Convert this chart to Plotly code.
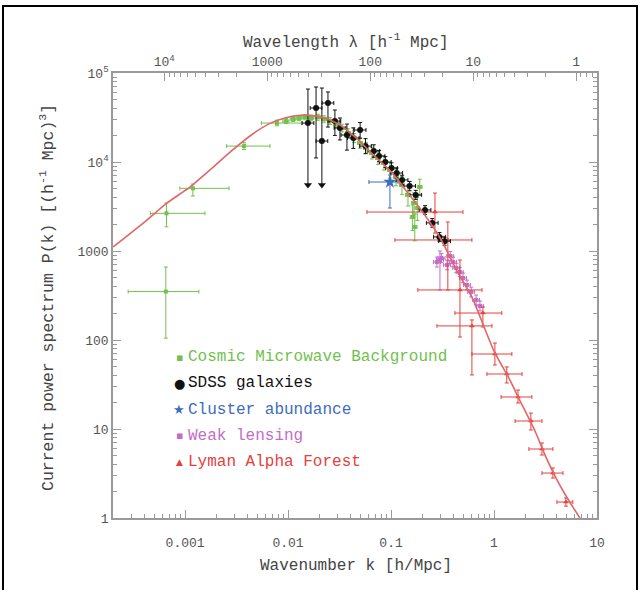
import math
import plotly.graph_objects as go

# ---------------- data ----------------
# Model power spectrum (red curve)
model_k = [0.0002, 0.0004, 0.00067, 0.00112, 0.0018, 0.00275, 0.0045, 0.0066, 0.0095,
           0.0132, 0.018, 0.024, 0.032, 0.045, 0.065, 0.1, 0.15, 0.2, 0.3, 0.45, 0.62,
           1.0, 1.4, 1.78, 2.5, 3.2, 4.0, 5.1, 7.0, 8.0]
model_p = [1110, 2100, 3470, 5250, 8400, 13000, 20500, 27000, 31500,
           33500, 33000, 30500, 26000, 19000, 12500, 7800, 4300, 2800, 1400, 560, 290,
           75, 37, 21, 9.5, 4.8, 2.8, 1.7, 0.95, 0.7]

# Cosmic Microwave Background
cmb_k = [0.00065, 0.00066, 0.00119, 0.00373, 0.0078, 0.00955, 0.0112, 0.0128, 0.0146, 0.0167,
         0.0195, 0.0224, 0.0256, 0.0293, 0.0335, 0.0383, 0.0438, 0.0501, 0.0572, 0.0654,
         0.0747, 0.0854, 0.0977, 0.1117, 0.1276, 0.146, 0.162, 0.167, 0.17, 0.18, 0.19]
cmb_p = [350, 2650, 5060, 15100, 27400, 28800, 30400, 31200, 31900, 31200,
         31900, 30400, 28800, 26700, 24100, 21200, 18600, 16300, 14400, 12600,
         11100, 9750, 8130, 6780, 5520, 4270, 2410, 3470, 1860, 3040, 5250]
cmb_p_lo = [105, 1870, 4150, 13800, 25500, 27000, 28500, 29200, 29800, 29000,
            29500, 28000, 26400, 24300, 21800, 19000, 16500, 14300, 12500, 10800,
            9400, 8100, 6600, 5400, 4300, 3200, 1700, 2600, 1300, 2200, 4200]
cmb_p_hi = [660, 3470, 5660, 16500, 29500, 30700, 32400, 33300, 34100, 33500,
            34400, 33000, 31400, 29300, 26600, 23600, 20900, 18500, 16500, 14600,
            13000, 11600, 9800, 8300, 6900, 5500, 3300, 4500, 2600, 4000, 6400]
cmb_k_lo = [0.00028, 0.00046, 0.00089, 0.00253, 0.0055, 0.0089, 0.0105, 0.0120, 0.0137, 0.0157,
            0.0183, 0.0211, 0.0241, 0.0276, 0.0316, 0.0361, 0.0413, 0.0473, 0.0540, 0.0618,
            0.0706, 0.0808, 0.0925, 0.1058, 0.1209, 0.1384, 0.1535, 0.1583, 0.1611, 0.1706, 0.1801]
cmb_k_hi = [0.00136, 0.00156, 0.00267, 0.00667, 0.0135, 0.0102, 0.0119, 0.0136, 0.0155, 0.0177,
            0.0207, 0.0237, 0.0271, 0.0310, 0.0354, 0.0405, 0.0463, 0.0529, 0.0604, 0.0690,
            0.0788, 0.0900, 0.1029, 0.1176, 0.1343, 0.1536, 0.1705, 0.1757, 0.1789, 0.1894, 0.1999]

# SDSS galaxies
sdss_k = [0.0156, 0.0187, 0.0213, 0.0244, 0.0285, 0.0319, 0.0373, 0.0430, 0.0501, 0.0565, 0.0680,
          0.0765, 0.0880, 0.101, 0.1136, 0.128, 0.1515, 0.1738, 0.2138, 0.2512, 0.2951, 0.3311]
sdss_p = [27400, 40400, 17200, 46000, 28800, 24100, 20100, 18600, 22900, 15100, 13300,
          11700, 10000, 8570, 7520, 6280, 5370, 4270, 2890, 2070, 1440, 1290]
sdss_p_lo = [5520, 11100, 5520, 24700, 19900, 17700, 13600, 14200, 18500, 12400, 11300,
             10100, 8700, 7500, 6600, 5550, 4750, 3800, 2580, 1850, 1290, 1160]
sdss_p_hi = [66000, 69600, 67800, 61200, 38400, 31200, 26700, 24200, 27800, 18300, 15600,
             13500, 11500, 9800, 8550, 7100, 6050, 4800, 3230, 2310, 1610, 1430]
sdss_k_lo = [0.0137, 0.0164, 0.0187, 0.0214, 0.0250, 0.0280, 0.0327, 0.0377, 0.0439, 0.0496, 0.0596,
             0.0671, 0.0772, 0.0886, 0.0996, 0.1123, 0.1329, 0.1525, 0.1875, 0.2204, 0.2589, 0.2904]
sdss_k_hi = [0.0178, 0.0213, 0.0243, 0.0278, 0.0325, 0.0364, 0.0425, 0.0490, 0.0571, 0.0644, 0.0775,
             0.0872, 0.1003, 0.1151, 0.1295, 0.1459, 0.1727, 0.1981, 0.2437, 0.2864, 0.3364, 0.3775]
sdss_upper_limit = [True, False, True, False, False, False, False, False, False, False, False,
                    False, False, False, False, False, False, False, False, False, False, False]

# Cluster abundance
cl_k = [0.0975]
cl_p = [5960]
cl_p_lo = [3040]
cl_p_hi = [7150]
cl_k_lo = [0.061]
cl_k_hi = [0.117]

# Weak lensing
wl_k = [0.279, 0.2985, 0.309, 0.35, 0.376, 0.40, 0.43, 0.465, 0.50, 0.546, 0.60, 0.67, 0.73]
wl_p = [752, 794, 834, 697, 879, 752, 644, 581, 498, 415, 346, 282, 241]
wl_p_lo = [660, 365, 740, 615, 780, 665, 570, 515, 440, 365, 305, 248, 212]
wl_p_hi = [855, 1000, 940, 790, 990, 850, 728, 655, 565, 470, 392, 320, 274]
wl_k_lo = [0.258, 0.276, 0.286, 0.324, 0.348, 0.370, 0.398, 0.430, 0.463, 0.505, 0.555, 0.620, 0.676]
wl_k_hi = [0.302, 0.323, 0.334, 0.378, 0.406, 0.432, 0.465, 0.502, 0.540, 0.590, 0.648, 0.724, 0.789]

# Lyman Alpha Forest
lya_k = [0.267, 0.356, 0.467, 0.61, 0.78, 1.02, 1.33, 1.71, 2.28, 2.92, 3.73, 4.99]
lya_p = [2740, 1330, 365, 144, 201, 69.6, 41.5, 22.9, 12.3, 5.96, 3.2, 1.51]
lya_p_lo = [1590, 365, 108, 40.5, 140, 52.4, 32.9, 19.6, 9.75, 5.1, 2.81, 1.36]
lya_p_hi = [4480, 2120, 792, 168, 235, 92.5, 49.8, 27.4, 15.1, 6.97, 3.65, 1.68]
lya_k_lo = [0.0583, 0.109, 0.182, 0.279, 0.417, 0.61, 0.853, 1.17, 1.6, 2.18, 2.92, 4.08]
lya_k_hi = [0.499, 0.61, 0.764, 0.955, 1.19, 1.49, 1.87, 2.33, 2.92, 3.73, 4.67, 5.83]

# Axis ticks
k_ticks = [0.001, 0.01, 0.1, 1, 10]
k_tick_text = ["0.001", "0.01", "0.1", "1", "10"]
p_ticks = [1, 10, 100, 1000, 1e4, 1e5]
p_tick_text = ["1", "10", "100", "1000", "10<sup>4</sup>", "10<sup>5</sup>"]
lambda_ticks = [1e4, 1000, 100, 10, 1]
lambda_tick_text = ["10<sup>4</sup>", "1000", "100", "10", "1"]

legend_labels = ["Cosmic Microwave Background", "SDSS galaxies", "Cluster abundance",
                 "Weak lensing", "Lyman Alpha Forest"]
legend_symbols = ["\u25aa", "\u25cf", "\u2605", "\u25aa", "\u25b2"]

# ---------------- styling ----------------
GREEN = "#72c04e"
BLACK = "#111111"
BLUE = "#3d6cc0"
PURPLE = "#c46cc8"
RED = "#e6403c"
CURVE = "#e26666"
AXIS = "#9a9a9a"
TEXT = "#444444"
FONT = "Liberation Mono"

# plot-area pixel geometry (figure 640 x 590)
L, R, T, B = 113, 597, 73, 518


def px(x):
    return (x - L) / (R - L)


def py(y):
    return (B - y) / (B - T)


def errs(v, lo, hi):
    return ([h - c for c, h in zip(v, hi)], [c - l for c, l in zip(v, lo)])


def data_trace(k, p, plo, phi, klo, khi, color, symbol, size, cap=2):
    yp, ym = errs(p, plo, phi)
    xp, xm = errs(k, klo, khi)
    return go.Scatter(
        x=k, y=p, mode="markers",
        marker=dict(color=color, symbol=symbol, size=size, line=dict(width=0)),
        error_y=dict(type="data", symmetric=False, array=yp, arrayminus=ym,
                     color=color, thickness=1, width=cap),
        error_x=dict(type="data", symmetric=False, array=xp, arrayminus=xm,
                     color=color, thickness=1, width=cap),
        hoverinfo="skip", showlegend=False,
    )


fig = go.Figure()

# model curve, drawn against the wavelength axis (same k range)
fig.add_trace(go.Scatter(x=model_k, y=model_p, mode="lines", xaxis="x2",
                         line=dict(color=CURVE, width=1.6, shape="spline", smoothing=0.6),
                         hoverinfo="skip", showlegend=False))

fig.add_trace(data_trace(cmb_k, cmb_p, cmb_p_lo, cmb_p_hi, cmb_k_lo, cmb_k_hi, GREEN, "square", 4))
fig.add_trace(data_trace(wl_k, wl_p, wl_p_lo, wl_p_hi, wl_k_lo, wl_k_hi, PURPLE, "square", 4))
fig.add_trace(data_trace(lya_k, lya_p, lya_p_lo, lya_p_hi, lya_k_lo, lya_k_hi, RED, "triangle-up", 5))
fig.add_trace(data_trace(cl_k, cl_p, cl_p_lo, cl_p_hi, cl_k_lo, cl_k_hi, BLUE, "star", 10))
fig.add_trace(data_trace(sdss_k, sdss_p, sdss_p_lo, sdss_p_hi, sdss_k_lo, sdss_k_hi, BLACK, "circle", 6))

# arrowheads on the SDSS bands whose lower error reaches zero
arrow_k = [k for k, u in zip(sdss_k, sdss_upper_limit) if u]
arrow_p = [p for p, u in zip(sdss_p_lo, sdss_upper_limit) if u]
fig.add_trace(go.Scatter(x=arrow_k, y=arrow_p, mode="markers",
                         marker=dict(symbol="triangle-down", size=7, color=BLACK),
                         hoverinfo="skip", showlegend=False))

# minor tick positions
k_minor = [m * 10 ** e for e in range(-4, 1) for m in range(2, 10)]
lambda_minor = [2 * math.pi / (m * 10 ** e) for e in range(-1, 4) for m in range(2, 10)]
p_minor = [m * 10 ** e for e in range(0, 5) for m in range(2, 10)]

axis_common = dict(type="log", showgrid=False, zeroline=False, showline=True,
                   linecolor=AXIS, linewidth=1.5, ticks="inside", ticklen=8,
                   tickcolor=AXIS, tickwidth=1,
                   tickfont=dict(family=FONT, size=13, color="#555555"))

fig.update_layout(
    width=640, height=590,
    margin=dict(l=L, r=640 - R, t=T, b=590 - B),
    paper_bgcolor="white", plot_bgcolor="white",
    xaxis=dict(range=[-3.7, 1], tickmode="array", tickvals=k_ticks, ticktext=k_tick_text,
               ticklabelstandoff=12,
               minor=dict(tickmode="array", tickvals=k_minor, ticks="inside", ticklen=4,
                          tickcolor=AXIS),
               **axis_common),
    xaxis2=dict(range=[-3.7, 1], overlaying="x", side="top", anchor="y",
                tickmode="array", tickvals=[2 * math.pi / l for l in lambda_ticks],
                ticktext=lambda_tick_text,
                minor=dict(tickmode="array", tickvals=lambda_minor, ticks="inside",
                           ticklen=4, tickcolor=AXIS),
                **axis_common),
    yaxis=dict(range=[0, 5], tickmode="array", tickvals=p_ticks, ticktext=p_tick_text,
               mirror="ticks",
               minor=dict(tickmode="array", tickvals=p_minor, ticks="inside", ticklen=4,
                          tickcolor=AXIS),
               **axis_common),
)

title_font = dict(family=FONT, size=16, color=TEXT)
annotations = [
    dict(text="Wavenumber k [h/Mpc]", x=px(356), y=py(566), xref="paper", yref="paper",
         xanchor="center", yanchor="middle", showarrow=False, font=title_font),
    dict(text="Wavelength \u03bb [h<sup>-1</sup> Mpc]", x=px(345), y=py(41), xref="paper",
         yref="paper", xanchor="center", yanchor="middle", showarrow=False, font=title_font),
    dict(text="Current power spectrum P(k) [(h<sup>-1</sup> Mpc)<sup>3</sup>]", x=px(47),
         y=py(298), xref="paper", yref="paper", xanchor="center", yanchor="middle",
         textangle=-90, showarrow=False, font=dict(family=FONT, size=16.5, color=TEXT)),
]

legend_colors = [GREEN, BLACK, BLUE, PURPLE, RED]
legend_sizes = [11, 13, 13, 11, 9]
for i, (lab, sym, col, ss) in enumerate(zip(legend_labels, legend_symbols, legend_colors, legend_sizes)):
    yy = 357 + i * 26.3
    annotations.append(dict(text=sym, x=px(179), y=py(yy), xref="paper", yref="paper",
                            xanchor="center", yanchor="middle", showarrow=False,
                            font=dict(family="DejaVu Sans", size=ss, color=col)))
    annotations.append(dict(text=lab, x=px(186), y=py(yy), xref="paper", yref="paper",
                            xanchor="left", yanchor="middle", showarrow=False,
                            font=dict(family=FONT, size=16, color=col)))

fig.update_layout(annotations=annotations)

# page frame
fig.add_shape(type="rect", xref="paper", yref="paper",
              x0=px(3), x1=px(637), y0=py(600), y1=py(6),
              line=dict(color="black", width=2), layer="above")

fig.write_html("out.html")
